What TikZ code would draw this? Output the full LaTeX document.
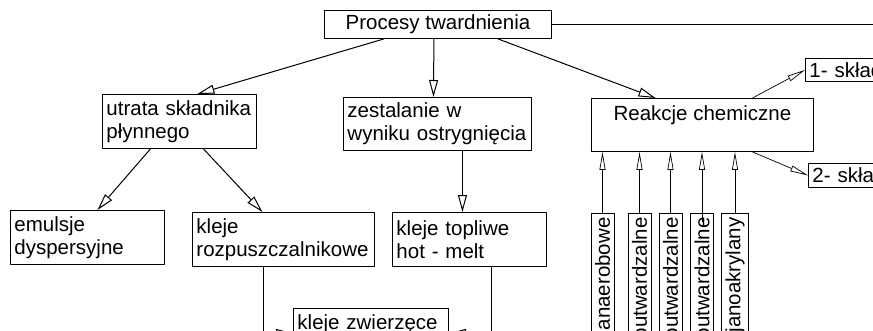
\documentclass[tikz,border=0pt]{standalone}
\usepackage{fontspec}
\setmainfont{Liberation Sans}
\usetikzlibrary{arrows.meta}
\begin{document}
\begin{tikzpicture}[x=1pt, y=-1pt, font=\fontsize{20.5}{23}\selectfont, line join=round,
	box/.style={draw, line width=.9pt, inner sep=4pt, anchor=north west, align=left},
	vbox/.style={draw, line width=.8pt, inner sep=4pt, rotate=90, anchor=east, minimum height=23pt, text width=150pt, align=right},
	arr/.style={-{Triangle[open, length=17pt, width=9pt]}, line width=1pt},
	thinarr/.style={-{Triangle[open, length=18pt, width=6pt]}, line width=.7pt}]
	\useasboundingbox (0,0) rectangle (873,330);
	\clip (0,0) rectangle (873,330);
	\coordinate (edge) at (880,24);
	\node[box, minimum width=227pt, minimum height=28pt, align=center, inner sep=2pt] (proc) at (324,10) {Procesy twardnienia};
	\node[box, text width=146pt, minimum height=54pt] (utrata) at (102,94) {utrata składnika\\płynnego};
	\node[box, text width=180pt, minimum height=53pt] (zestal) at (343,97) {zestalanie w\\wyniku ostrygnięcia};
	\node[box, minimum width=222pt, minimum height=53pt, align=center] (reakcje) at (591,98) {Reakcje chemiczne\\\mbox{}};
	\node[box, text width=142pt, minimum height=23pt] (skl1) at (805,58) {1- skład};
	\node[box, text width=142pt, minimum height=24pt] (skl2) at (808,163) {2- skła};
	\node[box, text width=146pt, minimum height=54pt] (emuls) at (10,210) {emulsje\\dyspersyjne};
	\node[box, text width=174pt, minimum height=54pt] (rozp) at (192,212) {kleje\\rozpuszczalnikowe};
	\node[box, text width=146pt, minimum height=54pt] (topl) at (392,212) {kleje topliwe\\hot - melt};
	\node[box, text width=147pt, minimum height=50pt] (zwierz) at (293,308) {kleje zwierzęce\\\mbox{}};
	\node[vbox] (v1) at (602.5,213) {anaerobowe};
	\node[vbox] (v2) at (639.5,213) {outwardzalne};
	\node[vbox] (v3) at (670.5,213) {outwardzalne};
	\node[vbox] (v4) at (702,213) {outwardzalne};
	\node[vbox] (v5) at (735,213) {janoakrylany};
	\draw[line width=.9pt] (proc.east) -- (proc.east -| edge);
	\draw[arr] ([xshift=-54pt]proc.south) -- ([xshift=18pt]utrata.north);
	\draw[arr] ([xshift=-4pt]proc.south) -- ([xshift=-4pt]zestal.north);
	\draw[arr] ([xshift=60pt]proc.south) -- ([xshift=-47pt]reakcje.north);
	\draw[arr] ([xshift=-29pt]utrata.south) -- ([xshift=10pt]emuls.north);
	\draw[arr] ([xshift=24pt]utrata.south) -- ([xshift=-21pt]rozp.north);
	\draw[arr] ([xshift=25pt]zestal.south) -- ([xshift=-7pt]topl.north);
	\draw[thinarr] ([xshift=50pt]reakcje.north) -- (skl1.west);
	\draw[thinarr] ([xshift=50pt]reakcje.south) -- (skl2.west);
	\draw[arr] ([xshift=-20pt]rozp.south) |- (zwierz.west);
	\draw[arr] ([xshift=22pt]topl.south) |- (zwierz.east);
	\foreach \v in {v1,v2,v3,v5}
		\draw[thinarr] (\v.east) -- (\v.east |- reakcje.south);
	\draw[thinarr] ([yshift=-9pt]v4.east) -- (v4.east |- reakcje.south);
\end{tikzpicture}
\end{document}
